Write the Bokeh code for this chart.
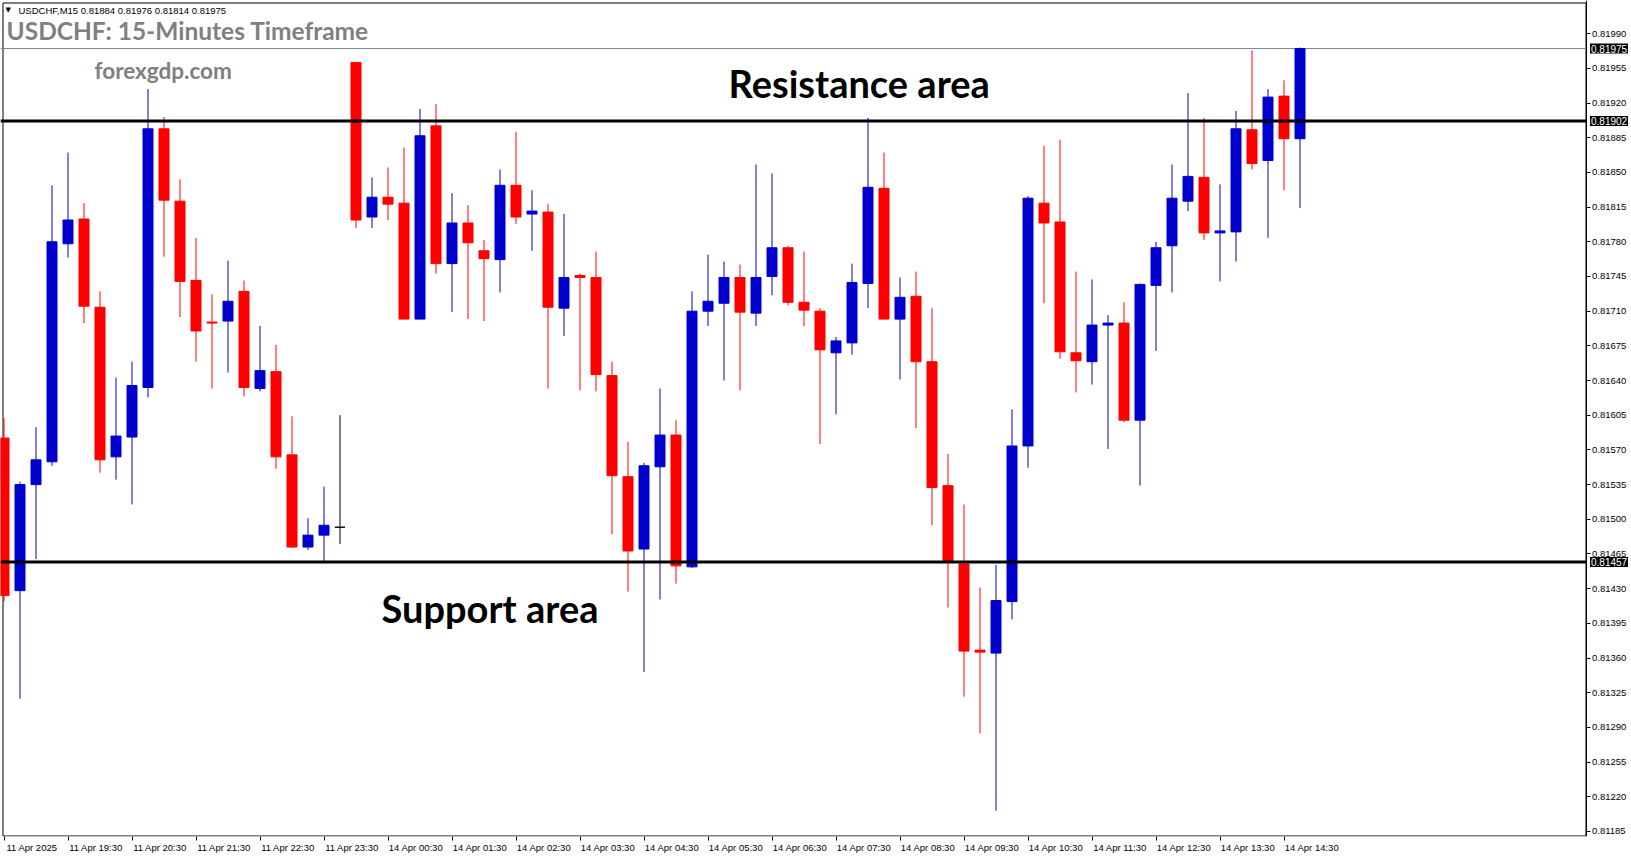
from bokeh.plotting import figure
from bokeh.models import ColumnDataSource, Label, FixedTicker, PrintfTickFormatter
from bokeh.embed import file_html
from bokeh.resources import INLINE

# ---------------- data ----------------
header_text = "USDCHF,M15  0.81884 0.81976 0.81814 0.81975"
title_text = "USDCHF: 15-Minutes Timeframe"
site_text = "forexgdp.com"
resistance_text = "Resistance area"
support_text = "Support area"

resistance_level = 0.81902
support_level = 0.81457
bid_level = 0.81975

opens = [0.81582, 0.81428, 0.81535, 0.81558, 0.81778, 0.81803, 0.81714, 0.81563, 0.81583, 0.81633,
         0.81894, 0.81821, 0.81741, 0.81699, 0.81700, 0.81730, 0.81632, 0.81649, 0.81565, 0.81472,
         0.81484, 0.81492, 0.81961, 0.81805, 0.81825, 0.81819, 0.81702, 0.81897, 0.81758, 0.81799,
         0.81771, 0.81762, 0.81837, 0.81808, 0.81810, 0.81713, 0.81746, 0.81744, 0.81645, 0.81543,
         0.81470, 0.81553, 0.81585, 0.81452, 0.81710, 0.81718, 0.81744, 0.81708, 0.81745, 0.81774,
         0.81719, 0.81710, 0.81668, 0.81678, 0.81738, 0.81834, 0.81702, 0.81725, 0.81659, 0.81534,
         0.81455, 0.81368, 0.81365, 0.81417, 0.81574, 0.81819, 0.81800, 0.81668, 0.81659, 0.81696,
         0.81698, 0.81600, 0.81736, 0.81776, 0.81821, 0.81845, 0.81789, 0.81790, 0.81893, 0.81862,
         0.81927, 0.81884]
highs = [0.81602, 0.81538, 0.81593, 0.81837, 0.81870, 0.81819, 0.81730, 0.81643, 0.81659, 0.81934,
         0.81906, 0.81843, 0.81784, 0.81727, 0.81761, 0.81741, 0.81695, 0.81676, 0.81604, 0.81501,
         0.81533, 0.81605, 0.81961, 0.81845, 0.81855, 0.81875, 0.81914, 0.81919, 0.81829, 0.81817,
         0.81782, 0.81853, 0.81891, 0.81832, 0.81818, 0.81808, 0.81748, 0.81770, 0.81659, 0.81578,
         0.81557, 0.81632, 0.81600, 0.81730, 0.81767, 0.81760, 0.81757, 0.81858, 0.81849, 0.81776,
         0.81770, 0.81713, 0.81684, 0.81758, 0.81905, 0.81870, 0.81744, 0.81750, 0.81713, 0.81566,
         0.81515, 0.81431, 0.81454, 0.81611, 0.81826, 0.81877, 0.81883, 0.81750, 0.81742, 0.81706,
         0.81719, 0.81738, 0.81780, 0.81858, 0.81930, 0.81905, 0.81838, 0.81912, 0.81973, 0.81934,
         0.81943, 0.81976]
lows = [0.81417, 0.81319, 0.81460, 0.81554, 0.81764, 0.81698, 0.81547, 0.81540, 0.81515, 0.81623,
        0.81765, 0.81704, 0.81659, 0.81632, 0.81648, 0.81624, 0.81629, 0.81551, 0.81471, 0.81469,
        0.81457, 0.81475, 0.81794, 0.81794, 0.81802, 0.81702, 0.81702, 0.81748, 0.81709, 0.81702,
        0.81700, 0.81729, 0.81798, 0.81771, 0.81632, 0.81685, 0.81630, 0.81629, 0.81485, 0.81427,
        0.81346, 0.81419, 0.81435, 0.81451, 0.81695, 0.81640, 0.81630, 0.81695, 0.81726, 0.81716,
        0.81695, 0.81576, 0.81606, 0.81666, 0.81713, 0.81702, 0.81641, 0.81592, 0.81494, 0.81411,
        0.81321, 0.81284, 0.81206, 0.81399, 0.81552, 0.81718, 0.81662, 0.81628, 0.81636, 0.81571,
        0.81598, 0.81534, 0.81670, 0.81729, 0.81811, 0.81782, 0.81740, 0.81760, 0.81853, 0.81784,
        0.81832, 0.81814]
closes = [0.81423, 0.81535, 0.81560, 0.81780, 0.81802, 0.81715, 0.81560, 0.81584, 0.81635, 0.81894,
          0.81822, 0.81740, 0.81690, 0.81698, 0.81720, 0.81633, 0.81650, 0.81563, 0.81472, 0.81484,
          0.81494, 0.81492, 0.81802, 0.81825, 0.81818, 0.81702, 0.81887, 0.81758, 0.81799, 0.81779,
          0.81763, 0.81837, 0.81805, 0.81811, 0.81714, 0.81744, 0.81744, 0.81646, 0.81544, 0.81468,
          0.81554, 0.81585, 0.81453, 0.81710, 0.81720, 0.81744, 0.81709, 0.81744, 0.81774, 0.81719,
          0.81711, 0.81671, 0.81680, 0.81739, 0.81835, 0.81702, 0.81724, 0.81659, 0.81532, 0.81458,
          0.81367, 0.81366, 0.81418, 0.81574, 0.81824, 0.81799, 0.81669, 0.81660, 0.81696, 0.81698,
          0.81600, 0.81737, 0.81774, 0.81824, 0.81846, 0.81789, 0.81791, 0.81894, 0.81859, 0.81926,
          0.81884, 0.81975]

x_label_bars = [0, 4, 8, 12, 16, 20, 24, 28, 32, 36, 40, 44, 48, 52, 56, 60, 64, 68, 72, 76, 80]
x_labels = ["11 Apr 2025", "11 Apr 19:30", "11 Apr 20:30", "11 Apr 21:30", "11 Apr 22:30",
            "11 Apr 23:30", "14 Apr 00:30", "14 Apr 01:30", "14 Apr 02:30", "14 Apr 03:30",
            "14 Apr 04:30", "14 Apr 05:30", "14 Apr 06:30", "14 Apr 07:30", "14 Apr 08:30",
            "14 Apr 09:30", "14 Apr 10:30", "14 Apr 11:30", "14 Apr 12:30", "14 Apr 13:30",
            "14 Apr 14:30"]
y_ticks = [0.81185, 0.81220, 0.81255, 0.81290, 0.81325, 0.81360, 0.81395, 0.81430, 0.81465,
           0.81500, 0.81535, 0.81570, 0.81605, 0.81640, 0.81675, 0.81710, 0.81745, 0.81780,
           0.81815, 0.81850, 0.81885, 0.81920, 0.81955, 0.81990]

# ---------------- layout constants ----------------
BULL = "#0000CD"
BEAR = "#FF0000"
DOJI = "#000000"
GRAY = "#808080"

W, H = 1628, 855
XAXIS_H = 16
PX_PER_BAR = 16.0
FIRST_BAR_PX = 3.5        # page px of bar 0 centre
CHART_L, CHART_T, CHART_R, CHART_B = 2.5, 2.5, 1585.5, 838.5
REF_P0, REF_Y0, PX_PER_PRICE = 0.81990, 33.3, 99460.0

X_START = -FIRST_BAR_PX / PX_PER_BAR
X_END = X_START + W / PX_PER_BAR


def py2y(py):
    return REF_P0 - (py - REF_Y0) / PX_PER_PRICE


def px2x(px):
    return X_START + px / PX_PER_BAR


Y_END = py2y(0)
Y_START = py2y(H - XAXIS_H)
X_AXIS_LOC = px2x(CHART_R)

n = len(opens)
xs = list(range(n))
colors = [BULL if c > o else (BEAR if c < o else DOJI) for o, c in zip(opens, closes)]
tops = [max(o, c) for o, c in zip(opens, closes)]
bottoms = [min(o, c) for o, c in zip(opens, closes)]

src = ColumnDataSource(dict(x=xs, open=opens, high=highs, low=lows, close=closes,
                            top=tops, bottom=bottoms, color=colors))

p = figure(width=W, height=H, x_range=(X_START, X_END), y_range=(Y_START, Y_END),
           y_axis_location="right", output_backend="svg", toolbar_location=None,
           min_border_left=0, min_border_top=0, min_border_right=0, min_border_bottom=XAXIS_H)
p.background_fill_color = "white"
p.border_fill_color = "white"
p.outline_line_color = None
p.xgrid.visible = False
p.ygrid.visible = False

# chart frame
p.quad(left=[px2x(CHART_L)], right=[px2x(CHART_R)], top=[py2y(CHART_T)], bottom=[py2y(CHART_B)],
       fill_color=None, line_color="black", line_width=1)

# bid line
p.segment(x0=[X_START], x1=[X_AXIS_LOC], y0=[bid_level], y1=[bid_level],
          line_color="#778899", line_width=1)

p.segment(x0="x", y0="low", x1="x", y1="high", line_color="color", line_width=1, source=src)
p.vbar(x="x", width=10 / PX_PER_BAR, top="top", bottom="bottom", fill_color="color",
       line_color="color", line_width=1, source=src)

# support / resistance lines
p.segment(x0=[X_START, X_START], x1=[X_AXIS_LOC, X_AXIS_LOC],
          y0=[resistance_level, support_level], y1=[resistance_level, support_level],
          line_color="black", line_width=3)

LABEL_SHIFT = 1.75
xa = p.xaxis[0]
xa.ticker = FixedTicker(ticks=[b + LABEL_SHIFT for b in x_label_bars], minor_ticks=x_label_bars)
xa.major_label_overrides = {b + LABEL_SHIFT: t for b, t in zip(x_label_bars, x_labels)}
xa.major_tick_line_color = None
xa.major_tick_out = 4
xa.major_tick_in = 0
xa.minor_tick_line_color = "black"
xa.minor_tick_out = 4
xa.minor_tick_in = 0
xa.major_label_standoff = 1
xa.axis_label_standoff = 0
xa.major_label_text_font = "Liberation Sans"
xa.major_label_text_font_size = "9.5px"
xa.major_label_text_color = "black"
xa.axis_line_color = None

ya = p.yaxis[0]
ya.fixed_location = X_AXIS_LOC
ya.ticker = FixedTicker(ticks=y_ticks, minor_ticks=[])
ya.formatter = PrintfTickFormatter(format="%.5f")
ya.major_tick_out = 4
ya.major_tick_in = 0
ya.major_tick_line_color = "black"
ya.minor_tick_line_color = None
ya.major_label_standoff = 2
ya.axis_label_standoff = 0
ya.major_label_text_font = "Liberation Sans"
ya.major_label_text_font_size = "9.5px"
ya.major_label_text_color = "black"
ya.axis_line_color = "black"

for lvl in [bid_level, resistance_level, support_level]:
    p.add_layout(Label(x=X_AXIS_LOC, y=lvl, x_offset=4, text="%.5f" % lvl, text_color="white",
                       text_font="Liberation Sans", text_font_size="10px",
                       text_align="left", text_baseline="middle", level="overlay",
                       background_fill_color="black", padding=1))

p.add_layout(Label(x=px2x(5), y=py2y(10), text="\u25bc", text_font="DejaVu Sans",
                   text_font_size="7px", text_color="black", text_align="left",
                   text_baseline="alphabetic"))
p.add_layout(Label(x=px2x(18), y=py2y(10), text=header_text, text_font="Liberation Sans",
                   text_font_size="9.5px", text_color="black", text_align="left",
                   text_baseline="alphabetic"))
p.add_layout(Label(x=px2x(6), y=py2y(30.3), text=title_text, text_font="Lato",
                   text_font_style="bold", text_font_size="24.5px", text_color=GRAY,
                   text_align="left", text_baseline="alphabetic"))
p.add_layout(Label(x=px2x(94), y=py2y(69.8), text=site_text, text_font="Lato",
                   text_font_style="bold", text_font_size="22.5px", text_color=GRAY,
                   text_align="left", text_baseline="alphabetic"))
p.add_layout(Label(x=px2x(728), y=py2y(82.5), text=resistance_text, text_font="Lato",
                   text_font_style="bold", text_font_size="38px", text_color="black",
                   text_align="left", text_baseline="alphabetic"))
p.add_layout(Label(x=px2x(381), y=py2y(609.5), text=support_text, text_font="Lato",
                   text_font_style="bold", text_font_size="38px", text_color="black",
                   text_align="left", text_baseline="alphabetic"))

open("out.html", "w").write(file_html(p, INLINE))
